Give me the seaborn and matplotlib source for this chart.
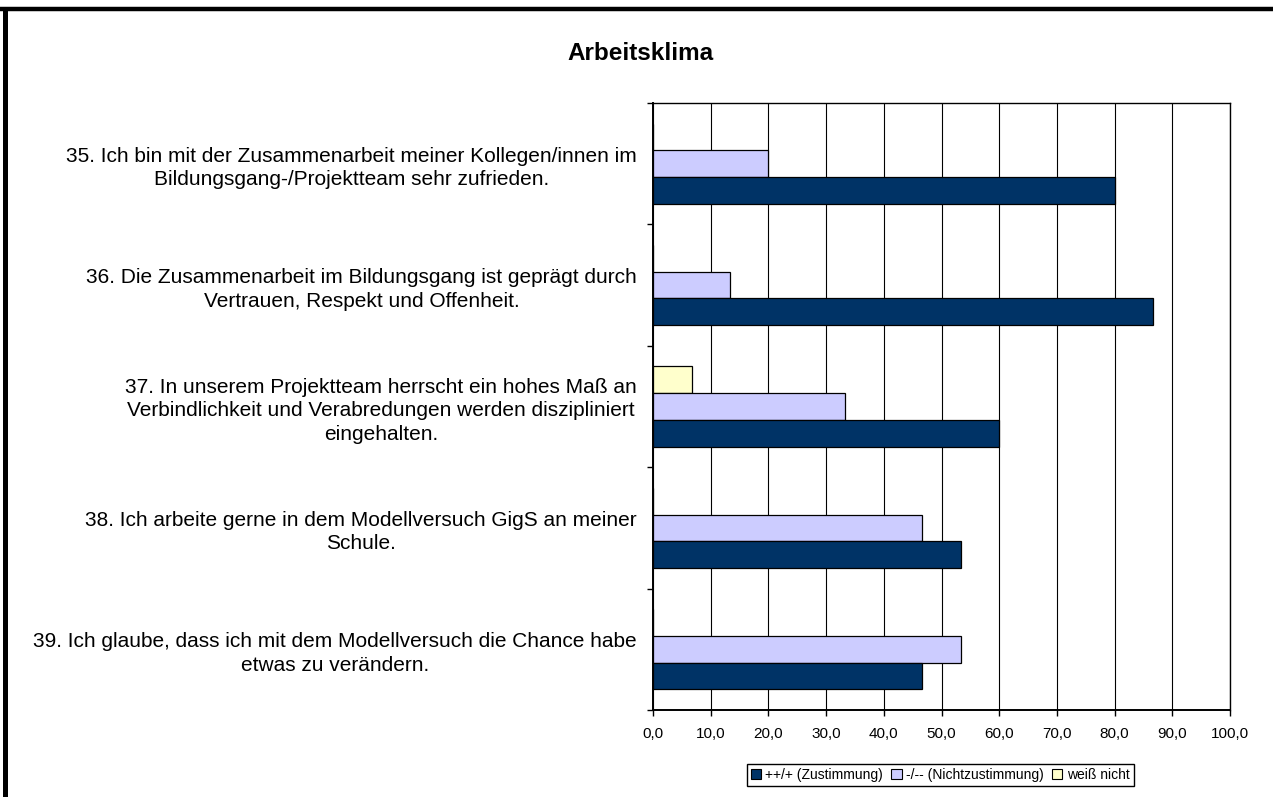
import numpy as np
import pandas as pd
import matplotlib
matplotlib.use("Agg")
import matplotlib.pyplot as plt
from matplotlib import font_manager
from matplotlib.lines import Line2D
from matplotlib.patches import Patch
import seaborn as sns

# Data (percent)
questions = [
    "35. Ich bin mit der Zusammenarbeit meiner Kollegen/innen im\nBildungsgang-/Projektteam sehr zufrieden.",
    "36. Die Zusammenarbeit im Bildungsgang ist geprägt durch\nVertrauen, Respekt und Offenheit.",
    "37. In unserem Projektteam herrscht ein hohes Maß an\nVerbindlichkeit und Verabredungen werden diszipliniert\neingehalten.",
    "38. Ich arbeite gerne in dem Modellversuch GigS an meiner\nSchule.",
    "39. Ich glaube, dass ich mit dem Modellversuch die Chance habe\netwas zu verändern.",
]
zustimmung = [80.0, 86.7, 60.0, 53.3, 46.7]
nichtzustimmung = [20.0, 13.3, 33.3, 46.7, 53.3]
weiss_nicht = [0.0, 0.0, 6.7, 0.0, 0.0]

series_names = ["++/+ (Zustimmung)", "-/-- (Nichtzustimmung)", "weiß nicht"]
series_colors = ["#003366", "#CCCCFF", "#FFFFCC"]
x_ticks = [0, 10, 20, 30, 40, 50, 60, 70, 80, 90, 100]

rows = []
for name, vals in zip(series_names, [zustimmung, nichtzustimmung, weiss_nicht]):
    for q, v in zip(questions, vals):
        rows.append({"frage": q, "serie": name, "wert": v})
df = pd.DataFrame(rows)

sns.set_theme(style="white")
plt.rcParams['font.family'] = ['Liberation Sans', 'DejaVu Sans']
plt.rcParams['text.color'] = 'black'
plt.rcParams['xtick.color'] = 'black'
plt.rcParams['ytick.color'] = 'black'

# make sure the bold title uses regular-width Liberation Sans Bold, not the Narrow cut
bold_file = None
for f in font_manager.findSystemFonts():
    if f.endswith("LiberationSans-Bold.ttf"):
        bold_file = f
        break
title_font = font_manager.FontProperties(fname=bold_file, size=17.5) if bold_file else \
    font_manager.FontProperties(family="Liberation Sans", weight="bold", size=17.5)

fig = plt.figure(figsize=(12.73, 7.97), dpi=100)
ax = fig.add_axes([653 / 1273, 1 - 710 / 797, (1230 - 653) / 1273, (710 - 103) / 797])

# Excel draws the first series at the bottom of each group
sns.barplot(data=df, y="frage", x="wert", hue="serie", orient="h",
            order=questions, hue_order=series_names[::-1],
            palette=dict(zip(series_names, series_colors)),
            saturation=1, width=0.66, edgecolor="black", linewidth=0.9,
            legend=False, ax=ax)

ax.set_xlim(0, 100)
ax.set_xticks(x_ticks)
ax.set_xticklabels([f"{t:.1f}".replace(".", ",") for t in x_ticks], fontsize=11)
ax.xaxis.grid(True, color="black", linewidth=0.8)
ax.set_axisbelow(True)
ax.set_xlabel("")
ax.set_ylabel("")

ax.tick_params(axis="y", which="major", length=0, pad=11.5, labelsize=15)
for lab in ax.get_yticklabels():
    lab.set_multialignment("center")
    lab.set_linespacing(1.3)
    lab.set_color("black")
ax.set_yticks(np.arange(-0.5, 5, 1), minor=True)
ax.tick_params(axis="y", which="minor", length=4, width=1, color="black", direction="out", left=True)
ax.tick_params(axis="x", length=4, width=1, color="black", direction="out", bottom=True, pad=8)

for s in ax.spines.values():
    s.set_color("black")
    s.set_linewidth(1.0)
ax.spines["left"].set_linewidth(1.4)
ax.spines["bottom"].set_linewidth(1.4)

fig.text(0.503, 1 - 54 / 797, "Arbeitsklima", ha="center", va="center",
         fontproperties=title_font, color="black")

handles = [Patch(facecolor=c, edgecolor="black", linewidth=0.8) for c in series_colors]
leg = fig.legend(handles, series_names, loc="center", ncol=3,
                 bbox_to_anchor=(940 / 1273, 1 - 775 / 797), fontsize=10,
                 frameon=True, fancybox=False, edgecolor="black", framealpha=1,
                 handlelength=0.75, handleheight=0.75, handletextpad=0.3,
                 columnspacing=0.6, borderpad=0.3, borderaxespad=0)
for t in leg.get_texts():
    t.set_color("black")

# outer chart frame (top and left visible)
fig.add_artist(Line2D([0, 1], [1 - 9 / 797, 1 - 9 / 797], color="black", linewidth=3.2,
                      transform=fig.transFigure))
fig.add_artist(Line2D([5 / 1273, 5 / 1273], [0, 1 - 9 / 797], color="black", linewidth=3.6,
                      transform=fig.transFigure))

fig.savefig("out.png", dpi=100)
